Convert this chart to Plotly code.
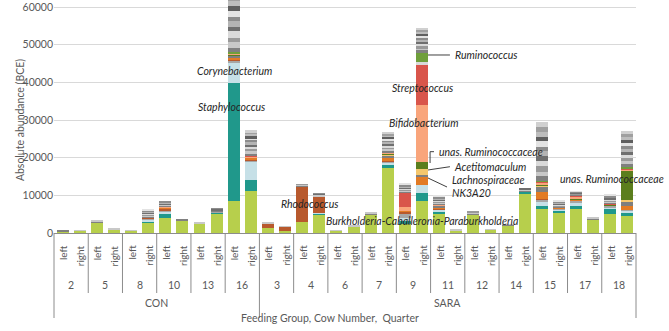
import plotly.graph_objects as go

# ---------------- data ----------------
group_names = ["CON", "SARA"]
con_cows = ["2", "5", "8", "10", "13", "16"]
sara_cows = ["3", "4", "6", "7", "9", "11", "12", "14", "15", "17", "18"]
quarters = ["left", "right"]

# stacked taxa (bottom -> top), 34 bars: cows x quarters
burkholderia = [450, 600, 2800, 1000, 650, 2900, 4000, 3300, 2500, 5300, 8500, 11200,
                1200, 600, 2900, 5000, 550, 1800, 5000, 17500, 2500, 8600, 5200, 750, 4800, 800, 2000, 10300, 6300, 5200, 6300, 3600, 5000, 4500]
staphylococcus = [0, 0, 100, 0, 0, 250, 1300, 150, 0, 150, 31200, 2900,
                  0, 0, 0, 150, 0, 0, 0, 500, 700, 2100, 500, 0, 150, 0, 0, 700, 900, 700, 1000, 0, 1500, 900]
corynebacterium = [0, 0, 0, 0, 0, 400, 500, 0, 0, 0, 5500, 4900,
                   0, 0, 0, 150, 0, 0, 0, 700, 700, 2000, 500, 0, 0, 0, 0, 0, 1100, 300, 700, 0, 300, 500]
other_a = [0, 0, 0, 0, 0, 200, 300, 0, 0, 200, 500, 300,
           0, 0, 0, 0, 0, 0, 0, 300, 1300, 0, 0, 0, 0, 0, 0, 0, 500, 300, 500, 0, 500, 300]
rhodococcus = [0, 0, 0, 0, 0, 300, 400, 0, 0, 0, 200, 200,
               1200, 1050, 9500, 4300, 0, 0, 0, 200, 500, 0, 300, 0, 0, 0, 0, 0, 300, 0, 0, 0, 0, 0]
nk3a20 = [0, 0, 0, 0, 0, 0, 300, 0, 0, 0, 700, 500,
          0, 0, 0, 0, 0, 0, 0, 700, 200, 2100, 300, 0, 0, 0, 0, 0, 1700, 250, 300, 0, 0, 900]
other_b = [0, 0, 0, 0, 0, 0, 0, 0, 0, 0, 500, 0,
           0, 0, 0, 0, 0, 0, 0, 600, 0, 700, 400, 0, 0, 0, 0, 0, 1500, 0, 0, 0, 0, 1300]
acetitomaculum = [0, 0, 0, 0, 0, 0, 0, 0, 0, 0, 0, 0,
                  0, 0, 0, 0, 0, 0, 0, 300, 0, 1500, 0, 0, 0, 0, 0, 0, 400, 0, 200, 0, 0, 400]
unas_ruminococcaceae = [0, 0, 0, 0, 0, 0, 0, 0, 0, 0, 300, 0,
                        0, 0, 0, 0, 0, 0, 0, 300, 0, 1800, 0, 0, 0, 0, 0, 0, 200, 0, 200, 0, 200, 7700]
bifidobacterium = [0, 0, 0, 0, 0, 0, 300, 0, 0, 0, 300, 300,
                   0, 0, 0, 0, 0, 0, 0, 400, 1000, 15200, 400, 0, 0, 0, 0, 0, 400, 0, 400, 0, 0, 400]
streptococcus = [0, 0, 0, 0, 0, 0, 0, 0, 0, 0, 0, 200,
                 0, 0, 0, 0, 0, 0, 0, 0, 3800, 10600, 0, 0, 0, 0, 0, 0, 300, 0, 300, 0, 300, 300]
other_c = [0, 0, 0, 0, 0, 0, 0, 0, 0, 0, 0, 0,
           0, 0, 0, 0, 0, 0, 0, 0, 0, 700, 0, 0, 0, 0, 0, 0, 0, 0, 0, 0, 0, 0]
ruminococcus = [0, 0, 0, 0, 0, 0, 0, 0, 0, 0, 300, 0,
                0, 0, 0, 0, 0, 0, 0, 0, 0, 2700, 0, 0, 0, 0, 0, 0, 200, 0, 0, 0, 0, 300]

# remaining minor genera (grey stripes)
o1 = [100, 0, 250, 0, 0, 300, 200, 150, 100, 200, 1200, 600, 150, 100, 200, 200, 0, 0, 200, 400, 300, 500, 300, 0, 300, 0, 200, 300, 1300, 200, 200, 200, 400, 800]
o2 = [0, 100, 200, 200, 100, 200, 150, 0, 100, 0, 1500, 700, 150, 100, 150, 300, 100, 150, 300, 500, 200, 600, 200, 150, 200, 150, 100, 300, 1200, 150, 100, 200, 200, 900]
o3 = [0, 0, 0, 0, 0, 400, 200, 0, 0, 250, 1000, 500, 0, 0, 150, 0, 0, 0, 0, 400, 300, 500, 300, 0, 250, 0, 0, 0, 1500, 300, 200, 0, 300, 700]
o4 = [0, 0, 0, 0, 0, 150, 0, 0, 0, 0, 1800, 600, 0, 0, 0, 0, 0, 0, 0, 500, 200, 600, 200, 0, 0, 0, 0, 0, 1200, 150, 0, 0, 200, 800]
o5 = [0, 0, 0, 0, 0, 300, 300, 0, 0, 300, 1100, 500, 0, 0, 0, 300, 0, 0, 0, 400, 400, 500, 300, 0, 0, 0, 0, 300, 1400, 250, 250, 0, 400, 900]
o6 = [0, 0, 0, 0, 0, 200, 150, 0, 0, 0, 1600, 700, 0, 0, 0, 0, 0, 0, 0, 500, 200, 600, 200, 0, 0, 0, 0, 0, 1300, 200, 0, 0, 200, 800]
o7 = [0, 0, 0, 0, 0, 500, 400, 0, 0, 200, 1200, 600, 0, 0, 0, 200, 0, 0, 0, 400, 500, 500, 500, 0, 0, 0, 0, 0, 1200, 300, 250, 0, 400, 700]
o8 = [0, 0, 0, 0, 0, 300, 0, 0, 0, 0, 1500, 500, 0, 0, 0, 0, 0, 0, 0, 500, 400, 600, 300, 0, 0, 0, 0, 0, 1400, 200, 200, 0, 400, 900]
o9 = [0, 0, 0, 0, 0, 0, 0, 0, 0, 0, 1300, 500, 0, 0, 0, 0, 0, 0, 0, 400, 0, 500, 0, 0, 0, 0, 0, 0, 1300, 0, 0, 0, 0, 800]
o10 = [0, 0, 0, 0, 0, 0, 0, 0, 0, 0, 1400, 600, 0, 0, 0, 0, 0, 0, 0, 400, 0, 500, 0, 0, 0, 0, 0, 0, 1200, 0, 0, 0, 0, 700]
o11 = [0, 0, 0, 0, 0, 0, 0, 0, 0, 0, 1100, 500, 0, 0, 0, 0, 0, 0, 0, 400, 0, 500, 0, 0, 0, 0, 0, 0, 1400, 0, 0, 0, 0, 800]
o12 = [0, 0, 0, 0, 0, 0, 0, 0, 0, 0, 1300, 500, 0, 0, 0, 0, 0, 0, 0, 400, 0, 500, 0, 0, 0, 0, 0, 0, 1300, 0, 0, 0, 0, 800]

y_ticks = [0, 10000, 20000, 30000, 40000, 50000, 60000]

# ---------------- styling ----------------
FONT = "Lato"
TXT = "#595959"
series = [
    ("Burkholderia-Caballeronia-Paraburkholderia", burkholderia, "#b7cf4c"),
    ("Staphylococcus", staphylococcus, "#20988b"),
    ("Corynebacterium", corynebacterium, "#c6e0e7"),
    ("Other A", other_a, "#a6a6a6"),
    ("Rhodococcus", rhodococcus, "#b8592d"),
    ("Lachnospiraceae NK3A20", nk3a20, "#e27b25"),
    ("Other B", other_b, "#7f7f7f"),
    ("Acetitomaculum", acetitomaculum, "#f5c76c"),
    ("unas. Ruminococcaceae", unas_ruminococcaceae, "#5b7e1d"),
    ("Bifidobacterium", bifidobacterium, "#f9a57b"),
    ("Streptococcus", streptococcus, "#d9554b"),
    ("Other C", other_c, "#d9d9d9"),
    ("Ruminococcus", ruminococcus, "#6f9f3b"),
]
grey_shades = ["#808080", "#c8c8c8", "#9a9a9a", "#dadada", "#6f6f6f", "#b4b4b4",
               "#8c8c8c", "#e3e3e3", "#5f5f5f", "#bdbdbd", "#a0a0a0", "#d0d0d0"]
for k, vals in enumerate([o1, o2, o3, o4, o5, o6, o7, o8, o9, o10, o11, o12]):
    series.append((f"Other {k + 1}", vals, grey_shades[k]))

cows = con_cows + sara_cows
n = 2 * len(cows)
xs = list(range(n))

fig = go.Figure()
for name, vals, col in series:
    fig.add_trace(go.Bar(x=xs, y=vals, name=name, marker=dict(color=col, line=dict(width=0)),
                         showlegend=False))

# plot area runs slightly above the top tick so the clipped tall bar reaches the edge
PLOT_H = 233
Y_TOP = 60000 * PLOT_H / 226
fig.update_layout(
    width=669, height=331,
    margin=dict(l=54, r=33, t=0, b=98),
    barmode="stack", bargap=0.3,
    plot_bgcolor="white", paper_bgcolor="white",
    font=dict(family=FONT, size=10, color=TXT),
    xaxis=dict(range=[-0.5, n - 0.5], showticklabels=False, ticks="", showgrid=False,
               zeroline=False, showline=True, linecolor="#8c8c8c", linewidth=1),
    yaxis=dict(range=[0, Y_TOP], tickvals=y_ticks, tickformat="d", showgrid=True,
               gridcolor="#d9d9d9", gridwidth=1, zeroline=False, showline=False,
               tickfont=dict(family=FONT, size=10.5, color=TXT), ticks=""),
)

ann = []
# paper-y helper from pixels below the plot (plot height PLOT_H)
def py(pix):
    return (PLOT_H - pix) / PLOT_H

# quarter labels
for i in xs:
    ann.append(dict(x=i, xref="x", y=py(243), yref="paper", text=quarters[i % 2], textangle=-90,
                    showarrow=False, xanchor="center", yanchor="top",
                    font=dict(family=FONT, size=10, color=TXT)))
# cow labels
for j, c in enumerate(cows):
    ann.append(dict(x=2 * j + 0.5, xref="x", y=py(285), yref="paper", text=c, showarrow=False,
                    xanchor="center", yanchor="middle", font=dict(family=FONT, size=10.5, color=TXT)))
# group labels
n_con = 2 * len(con_cows)
ann.append(dict(x=(n_con - 1) / 2, xref="x", y=py(311), yref="paper", text=group_names[0],
                showarrow=False, font=dict(family=FONT, size=10.5, color=TXT)))
ann.append(dict(x=(n_con + n - 1) / 2, xref="x", y=py(311), yref="paper", text=group_names[1],
                showarrow=False, font=dict(family=FONT, size=10.5, color=TXT)))
# axis titles
ann.append(dict(x=0.474, xref="paper", y=py(326), yref="paper", text="Feeding Group, Cow Number,  Quarter",
                showarrow=False, font=dict(family=FONT, size=10.5, color=TXT)))
ann.append(dict(x=-0.072, xref="paper", y=py(120), yref="paper", text="Absolute abundance (BCE)",
                textangle=-90, showarrow=False, font=dict(family=FONT, size=10.5, color=TXT)))

# taxon labels
LBL = dict(family=FONT, size=10.5, color="#262626")
def lab(x, y, t, anchor="center"):
    ann.append(dict(x=x, y=y, xref="x", yref="y", text=f"<i>{t}</i>", showarrow=False,
                    xanchor=anchor, yanchor="middle", font=LBL))

lab(10.02, 43000, "Corynebacterium")
lab(9.84, 33450, "Staphylococcus")
lab(14.4, 7700, "Rhodococcus")
lab(21.0, 3190, "Burkholderia-Caballeronia-Paraburkholderia")
lab(21.0, 38500, "Streptococcus")
lab(21.1, 29200, "Bifidobacterium")
lab(22.8, 47260, "Ruminococcus", "left")
lab(21.9, 21590, "unas. Ruminococcaceae", "left")
lab(22.75, 17500, "Acetitomaculum", "left")
lab(22.63, 13950, "Lachnospiraceae", "left")
lab(22.63, 10600, "NK3A20", "left")
lab(28.95, 14260, "unas. Ruminococcaceae", "left")
fig.update_layout(annotations=ann)

shapes = []
LC = "#404040"
def seg(x0, y0, x1, y1):
    shapes.append(dict(type="line", xref="x", yref="y", x0=x0, y0=y0, x1=x1, y1=y1,
                       line=dict(color=LC, width=1)))
seg(21.35, 47260, 22.63, 47260)
seg(21.47, 18585, 21.47, 21590)
seg(21.47, 21590, 21.7, 21590)
seg(21.35, 16730, 22.63, 17600)
seg(21.35, 14600, 22.46, 12210)

# category axis separators
SC = "#8c8c8c"
for b in range(0, n + 1, 2):
    long_line = b in (0, n_con, n)
    shapes.append(dict(type="line", xref="paper", yref="paper", x0=b / n, x1=b / n,
                       y0=0, y1=py(318) if long_line else py(293), line=dict(color=SC, width=1)))
fig.update_layout(shapes=shapes)

fig.write_html("out.html")
